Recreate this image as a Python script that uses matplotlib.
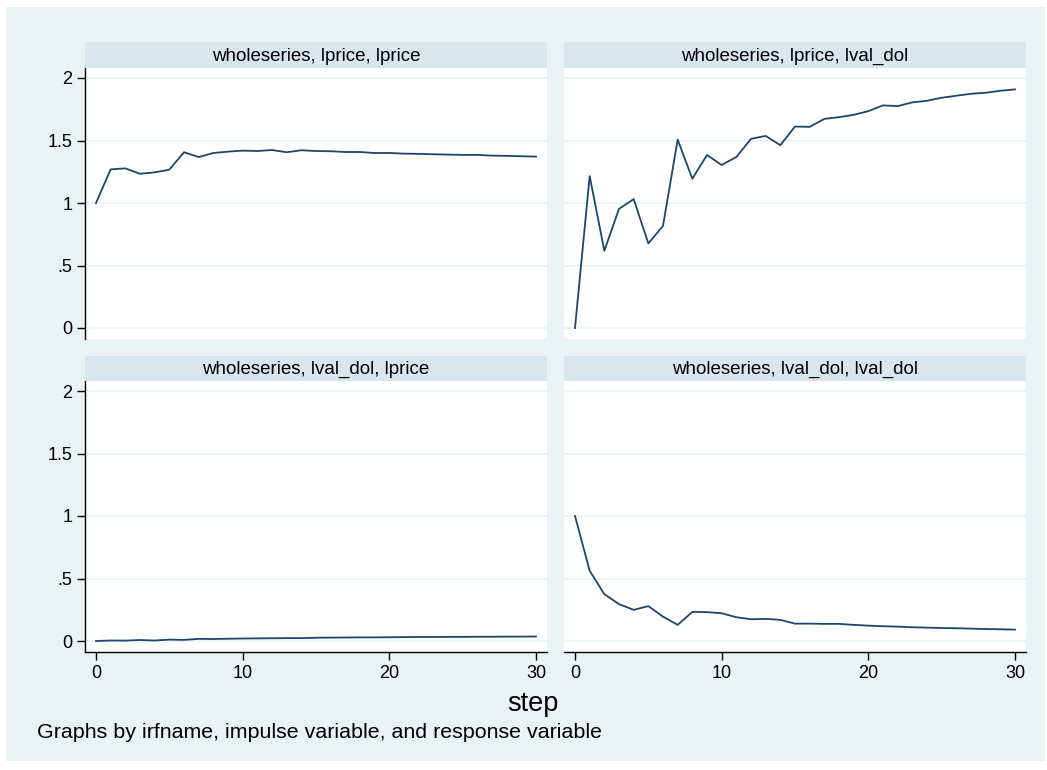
import matplotlib
matplotlib.use('Agg')
import matplotlib.pyplot as plt
from matplotlib.patches import Rectangle

plt.rcParams['font.family'] = ['Liberation Sans', 'DejaVu Sans']

steps = list(range(31))

lprice_lprice = [1.0, 1.269, 1.277, 1.234, 1.245, 1.267, 1.406, 1.368, 1.40, 1.411,
                 1.419, 1.416, 1.424, 1.406, 1.422, 1.416, 1.414, 1.408, 1.408, 1.40,
                 1.40, 1.395, 1.393, 1.39, 1.387, 1.385, 1.385, 1.379, 1.377, 1.374, 1.371]

lprice_lval = [0.0, 1.215, 0.618, 0.953, 1.031, 0.677, 0.817, 1.507, 1.194, 1.384,
               1.304, 1.368, 1.513, 1.537, 1.462, 1.612, 1.609, 1.673, 1.687, 1.705,
               1.735, 1.781, 1.775, 1.805, 1.818, 1.842, 1.858, 1.874, 1.882, 1.898, 1.909]

lval_lprice = [0.0, 0.004, 0.003, 0.008, 0.004, 0.011, 0.009, 0.017, 0.016, 0.018,
               0.020, 0.021, 0.022, 0.023, 0.023, 0.026, 0.027, 0.028, 0.029, 0.029,
               0.030, 0.031, 0.032, 0.032, 0.033, 0.033, 0.034, 0.034, 0.035, 0.035, 0.036]

lval_lval = [1.0, 0.562, 0.375, 0.295, 0.249, 0.279, 0.195, 0.129, 0.233, 0.231,
             0.222, 0.190, 0.174, 0.177, 0.169, 0.139, 0.139, 0.137, 0.137, 0.129,
             0.123, 0.118, 0.115, 0.110, 0.107, 0.104, 0.102, 0.099, 0.096, 0.094, 0.091]

titles = ['wholeseries, lprice, lprice', 'wholeseries, lprice, lval_dol',
          'wholeseries, lval_dol, lprice', 'wholeseries, lval_dol, lval_dol']
series = [lprice_lprice, lprice_lval, lval_lprice, lval_lval]

yticks = [0, 0.5, 1, 1.5, 2]
ytick_labels = ['0', '.5', '1', '1.5', '2']
xticks = [0, 10, 20, 30]

W, H = 1047, 770
BG = '#EAF2F3'
STRIP = '#D9E6EB'
NAVY = '#1A476F'

fig = plt.figure(figsize=(W / 100, H / 100), dpi=100)
fig.patch.set_facecolor('white')
fig.patches.append(Rectangle((6 / W, (H - 761) / H), 1039 / W, 754 / H,
                             transform=fig.transFigure, facecolor=BG,
                             edgecolor='none', zorder=-10))

# panel boxes in pixels: (left, right) and (strip top, plot top, plot bottom)
cols = [(85, 547), (564, 1026)]
rows = [(42, 68, 339), (356, 381, 652)]

for k in range(4):
    r, c = divmod(k, 2)
    x0, x1 = cols[c]
    st, pt, pb = rows[r]
    ax = fig.add_axes([x0 / W, (H - pb) / H, (x1 - x0) / W, (pb - pt) / H])
    ax.set_facecolor('white')
    ax.plot(steps, series[k], color=NAVY, lw=1.3, zorder=3)
    ax.set_xlim(-0.75, 30.75)
    ax.set_ylim(-0.088, 2.08)
    for yv in yticks:
        ax.axhline(yv, color=BG, lw=1.2, zorder=1)
    for s in ax.spines.values():
        s.set_visible(False)
    ax.set_yticks(yticks)
    ax.set_xticks(xticks)
    if c == 0:
        ax.spines['left'].set_visible(True)
        ax.spines['left'].set_linewidth(1.0)
        ax.set_yticklabels(ytick_labels, fontsize=13)
        ax.tick_params(axis='y', length=6, width=1, pad=3)
    else:
        ax.tick_params(axis='y', left=False, labelleft=False)
    if r == 1:
        ax.spines['bottom'].set_visible(True)
        ax.spines['bottom'].set_linewidth(1.0)
        ax.set_xticklabels([str(v) for v in xticks], fontsize=13)
        ax.tick_params(axis='x', length=6, width=1, pad=3)
    else:
        ax.tick_params(axis='x', bottom=False, labelbottom=False)

    # strip title above each panel
    sax = fig.add_axes([x0 / W, (H - pt) / H, (x1 - x0) / W, (pt - st) / H])
    sax.set_facecolor(STRIP)
    sax.set_xticks([])
    sax.set_yticks([])
    for s in sax.spines.values():
        s.set_visible(False)
    sax.text(0.5, 0.45, titles[k], ha='center', va='center', fontsize=13.5,
             transform=sax.transAxes)

fig.text(533 / W, 1 - 704 / H, 'step', ha='center', va='center', fontsize=19.5)
fig.text(37 / W, 1 - 732 / H, 'Graphs by irfname, impulse variable, and response variable',
         ha='left', va='center', fontsize=15.4)

fig.savefig('out.png', dpi=100, facecolor=fig.get_facecolor())
